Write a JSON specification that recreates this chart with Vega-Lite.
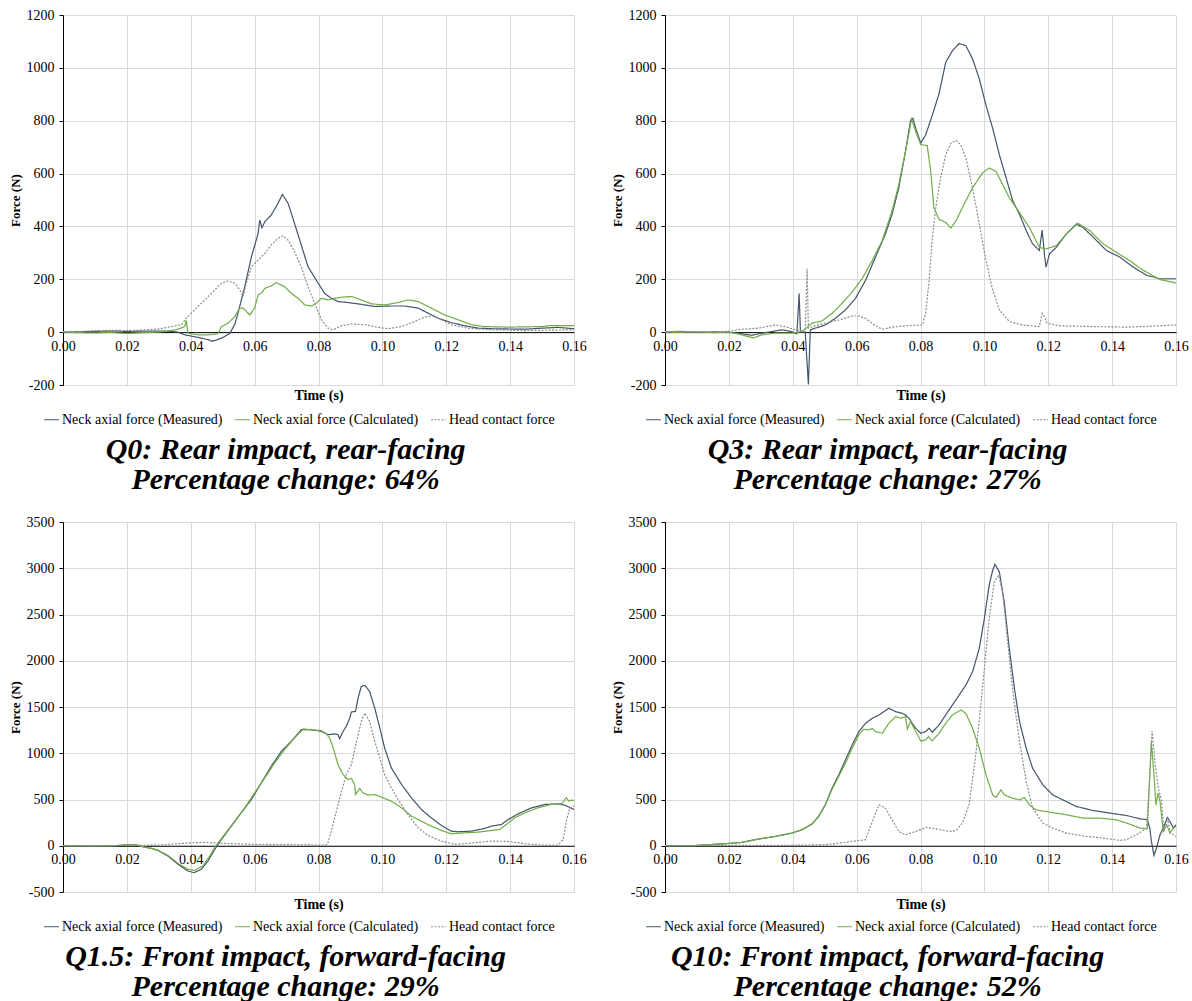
{
"$schema": "https://vega.github.io/schema/vega-lite/v6.json",
"padding": {"left": 9, "top": 8, "right": 0, "bottom": 0},
"background": "white",
"columns": 2,
"spacing": {"row": 20, "column": 24},
"resolve": {"scale": {"x": "independent", "y": "independent", "color": "independent", "strokeDash": "independent"}, "legend": {"color": "independent", "strokeDash": "independent"}},
"datasets": {
"q0": [
{"s":"M","t":0,"f":0},{"s":"M","t":0.005,"f":1},{"s":"M","t":0.01,"f":3},{"s":"M","t":0.015,"f":4},{"s":"M","t":0.02,"f":3},{"s":"M","t":0.025,"f":4},{"s":"M","t":0.03,"f":4},{"s":"M","t":0.0339,"f":3},{"s":"M","t":0.036,"f":0},{"s":"M","t":0.0381,"f":-10},{"s":"M","t":0.0423,"f":-20},{"s":"M","t":0.0459,"f":-30},{"s":"M","t":0.0465,"f":-35},{"s":"M","t":0.048,"f":-30},{"s":"M","t":0.0501,"f":-20},{"s":"M","t":0.0522,"f":-5},{"s":"M","t":0.0538,"f":30},{"s":"M","t":0.0548,"f":72},{"s":"M","t":0.0569,"f":172},{"s":"M","t":0.059,"f":285},{"s":"M","t":0.0611,"f":374},{"s":"M","t":0.0616,"f":424},{"s":"M","t":0.0623,"f":395},{"s":"M","t":0.0632,"f":418},{"s":"M","t":0.0652,"f":443},{"s":"M","t":0.0673,"f":487},{"s":"M","t":0.0687,"f":521},{"s":"M","t":0.0705,"f":487},{"s":"M","t":0.0725,"f":411},{"s":"M","t":0.0746,"f":330},{"s":"M","t":0.0767,"f":248},{"s":"M","t":0.0799,"f":185},{"s":"M","t":0.0819,"f":147},{"s":"M","t":0.084,"f":128},{"s":"M","t":0.0861,"f":116},{"s":"M","t":0.0892,"f":112},{"s":"M","t":0.0924,"f":107},{"s":"M","t":0.0976,"f":97},{"s":"M","t":0.1028,"f":99},{"s":"M","t":0.107,"f":99},{"s":"M","t":0.1112,"f":91},{"s":"M","t":0.1143,"f":72},{"s":"M","t":0.1174,"f":53},{"s":"M","t":0.1216,"f":36},{"s":"M","t":0.1258,"f":24},{"s":"M","t":0.13,"f":15},{"s":"M","t":0.1341,"f":13},{"s":"M","t":0.1446,"f":11},{"s":"M","t":0.1498,"f":15},{"s":"M","t":0.155,"f":18},{"s":"M","t":0.16,"f":13},
{"s":"C","t":0,"f":0},{"s":"C","t":0.005,"f":-2},{"s":"C","t":0.01,"f":-3},{"s":"C","t":0.015,"f":-1},{"s":"C","t":0.02,"f":-5},{"s":"C","t":0.025,"f":-2},{"s":"C","t":0.03,"f":0},{"s":"C","t":0.0355,"f":9},{"s":"C","t":0.0381,"f":21},{"s":"C","t":0.0386,"f":45},{"s":"C","t":0.0391,"f":-4},{"s":"C","t":0.0423,"f":-10},{"s":"C","t":0.0454,"f":-10},{"s":"C","t":0.0485,"f":-6},{"s":"C","t":0.0496,"f":21},{"s":"C","t":0.0517,"f":34},{"s":"C","t":0.0538,"f":59},{"s":"C","t":0.0553,"f":91},{"s":"C","t":0.0564,"f":91},{"s":"C","t":0.0585,"f":65},{"s":"C","t":0.06,"f":91},{"s":"C","t":0.0611,"f":141},{"s":"C","t":0.0621,"f":147},{"s":"C","t":0.0632,"f":166},{"s":"C","t":0.0652,"f":175},{"s":"C","t":0.0668,"f":187},{"s":"C","t":0.0694,"f":172},{"s":"C","t":0.0715,"f":147},{"s":"C","t":0.0736,"f":128},{"s":"C","t":0.0757,"f":103},{"s":"C","t":0.0778,"f":99},{"s":"C","t":0.0793,"f":109},{"s":"C","t":0.0809,"f":128},{"s":"C","t":0.083,"f":122},{"s":"C","t":0.0851,"f":128},{"s":"C","t":0.0872,"f":132},{"s":"C","t":0.0903,"f":135},{"s":"C","t":0.0934,"f":122},{"s":"C","t":0.0966,"f":107},{"s":"C","t":0.1007,"f":103},{"s":"C","t":0.1049,"f":112},{"s":"C","t":0.108,"f":122},{"s":"C","t":0.1112,"f":116},{"s":"C","t":0.1153,"f":91},{"s":"C","t":0.1195,"f":65},{"s":"C","t":0.1237,"f":47},{"s":"C","t":0.1279,"f":28},{"s":"C","t":0.132,"f":21},{"s":"C","t":0.1394,"f":19},{"s":"C","t":0.1498,"f":21},{"s":"C","t":0.1529,"f":25},{"s":"C","t":0.16,"f":25},
{"s":"H","t":0,"f":2},{"s":"H","t":0.005,"f":3},{"s":"H","t":0.01,"f":5},{"s":"H","t":0.015,"f":7},{"s":"H","t":0.02,"f":6},{"s":"H","t":0.025,"f":8},{"s":"H","t":0.03,"f":12},{"s":"H","t":0.0339,"f":21},{"s":"H","t":0.0371,"f":28},{"s":"H","t":0.0386,"f":53},{"s":"H","t":0.0402,"f":72},{"s":"H","t":0.0433,"f":109},{"s":"H","t":0.0465,"f":147},{"s":"H","t":0.0496,"f":185},{"s":"H","t":0.0517,"f":194},{"s":"H","t":0.0538,"f":185},{"s":"H","t":0.0553,"f":160},{"s":"H","t":0.0564,"f":135},{"s":"H","t":0.0574,"f":185},{"s":"H","t":0.059,"f":248},{"s":"H","t":0.0611,"f":273},{"s":"H","t":0.0632,"f":298},{"s":"H","t":0.0652,"f":330},{"s":"H","t":0.0673,"f":355},{"s":"H","t":0.0689,"f":364},{"s":"H","t":0.0705,"f":348},{"s":"H","t":0.0725,"f":304},{"s":"H","t":0.0746,"f":248},{"s":"H","t":0.0767,"f":172},{"s":"H","t":0.0788,"f":109},{"s":"H","t":0.0809,"f":47},{"s":"H","t":0.083,"f":15},{"s":"H","t":0.0846,"f":9},{"s":"H","t":0.0872,"f":24},{"s":"H","t":0.0903,"f":31},{"s":"H","t":0.0945,"f":28},{"s":"H","t":0.0986,"f":18},{"s":"H","t":0.1018,"f":13},{"s":"H","t":0.106,"f":21},{"s":"H","t":0.1101,"f":40},{"s":"H","t":0.1133,"f":57},{"s":"H","t":0.1159,"f":62},{"s":"H","t":0.1185,"f":47},{"s":"H","t":0.1216,"f":28},{"s":"H","t":0.1268,"f":15},{"s":"H","t":0.1341,"f":9},{"s":"H","t":0.1446,"f":6},{"s":"H","t":0.16,"f":9}
],
"q3": [
{"s":"M","t":0,"f":0},{"s":"M","t":0.005,"f":2},{"s":"M","t":0.01,"f":-1},{"s":"M","t":0.015,"f":1},{"s":"M","t":0.02,"f":0},{"s":"M","t":0.024,"f":-6},{"s":"M","t":0.0271,"f":-12},{"s":"M","t":0.0303,"f":-4},{"s":"M","t":0.0334,"f":2},{"s":"M","t":0.0366,"f":9},{"s":"M","t":0.0397,"f":2},{"s":"M","t":0.0413,"f":-6},{"s":"M","t":0.042,"f":146},{"s":"M","t":0.0424,"f":2},{"s":"M","t":0.0439,"f":-1},{"s":"M","t":0.0449,"f":-198},{"s":"M","t":0.0455,"f":9},{"s":"M","t":0.047,"f":15},{"s":"M","t":0.0502,"f":27},{"s":"M","t":0.0533,"f":52},{"s":"M","t":0.0565,"f":84},{"s":"M","t":0.0596,"f":127},{"s":"M","t":0.0628,"f":196},{"s":"M","t":0.0659,"f":284},{"s":"M","t":0.069,"f":371},{"s":"M","t":0.0711,"f":446},{"s":"M","t":0.0732,"f":546},{"s":"M","t":0.0753,"f":684},{"s":"M","t":0.0769,"f":802},{"s":"M","t":0.0776,"f":809},{"s":"M","t":0.0785,"f":771},{"s":"M","t":0.0801,"f":715},{"s":"M","t":0.0816,"f":746},{"s":"M","t":0.0837,"f":821},{"s":"M","t":0.0858,"f":902},{"s":"M","t":0.0879,"f":1021},{"s":"M","t":0.09,"f":1065},{"s":"M","t":0.0921,"f":1092},{"s":"M","t":0.0942,"f":1084},{"s":"M","t":0.0963,"f":1034},{"s":"M","t":0.0984,"f":959},{"s":"M","t":0.1005,"f":859},{"s":"M","t":0.1026,"f":771},{"s":"M","t":0.1047,"f":671},{"s":"M","t":0.1068,"f":584},{"s":"M","t":0.1089,"f":496},{"s":"M","t":0.111,"f":446},{"s":"M","t":0.1131,"f":384},{"s":"M","t":0.1151,"f":334},{"s":"M","t":0.1172,"f":309},{"s":"M","t":0.1181,"f":386},{"s":"M","t":0.1188,"f":296},{"s":"M","t":0.1193,"f":246},{"s":"M","t":0.1204,"f":296},{"s":"M","t":0.1225,"f":321},{"s":"M","t":0.1256,"f":371},{"s":"M","t":0.1288,"f":409},{"s":"M","t":0.1309,"f":396},{"s":"M","t":0.1341,"f":359},{"s":"M","t":0.1382,"f":309},{"s":"M","t":0.1424,"f":284},{"s":"M","t":0.1466,"f":246},{"s":"M","t":0.1508,"f":215},{"s":"M","t":0.155,"f":202},{"s":"M","t":0.16,"f":202},
{"s":"C","t":0,"f":0},{"s":"C","t":0.005,"f":-1},{"s":"C","t":0.01,"f":1},{"s":"C","t":0.015,"f":-2},{"s":"C","t":0.02,"f":0},{"s":"C","t":0.024,"f":-10},{"s":"C","t":0.0277,"f":-22},{"s":"C","t":0.0303,"f":-10},{"s":"C","t":0.0345,"f":-4},{"s":"C","t":0.0397,"f":-4},{"s":"C","t":0.0429,"f":2},{"s":"C","t":0.046,"f":34},{"s":"C","t":0.0491,"f":42},{"s":"C","t":0.0523,"f":71},{"s":"C","t":0.0554,"f":109},{"s":"C","t":0.0586,"f":152},{"s":"C","t":0.0617,"f":202},{"s":"C","t":0.0649,"f":271},{"s":"C","t":0.068,"f":346},{"s":"C","t":0.0711,"f":459},{"s":"C","t":0.0732,"f":559},{"s":"C","t":0.0753,"f":684},{"s":"C","t":0.0772,"f":806},{"s":"C","t":0.0785,"f":759},{"s":"C","t":0.0801,"f":709},{"s":"C","t":0.0821,"f":706},{"s":"C","t":0.0832,"f":609},{"s":"C","t":0.0842,"f":471},{"s":"C","t":0.0858,"f":427},{"s":"C","t":0.0879,"f":415},{"s":"C","t":0.0895,"f":394},{"s":"C","t":0.0911,"f":421},{"s":"C","t":0.0931,"f":471},{"s":"C","t":0.0963,"f":546},{"s":"C","t":0.0994,"f":602},{"s":"C","t":0.1015,"f":621},{"s":"C","t":0.1036,"f":609},{"s":"C","t":0.1057,"f":559},{"s":"C","t":0.1078,"f":509},{"s":"C","t":0.111,"f":452},{"s":"C","t":0.1141,"f":396},{"s":"C","t":0.1172,"f":321},{"s":"C","t":0.1193,"f":315},{"s":"C","t":0.1225,"f":327},{"s":"C","t":0.1256,"f":371},{"s":"C","t":0.1293,"f":412},{"s":"C","t":0.133,"f":384},{"s":"C","t":0.1372,"f":334},{"s":"C","t":0.1413,"f":302},{"s":"C","t":0.1455,"f":271},{"s":"C","t":0.1497,"f":234},{"s":"C","t":0.155,"f":199},{"s":"C","t":0.16,"f":186},
{"s":"H","t":0,"f":2},{"s":"H","t":0.005,"f":3},{"s":"H","t":0.01,"f":1},{"s":"H","t":0.015,"f":2},{"s":"H","t":0.02,"f":3},{"s":"H","t":0.024,"f":11},{"s":"H","t":0.0292,"f":15},{"s":"H","t":0.0345,"f":27},{"s":"H","t":0.0376,"f":21},{"s":"H","t":0.0408,"f":9},{"s":"H","t":0.0439,"f":2},{"s":"H","t":0.0445,"f":240},{"s":"H","t":0.0449,"f":15},{"s":"H","t":0.047,"f":24},{"s":"H","t":0.0502,"f":34},{"s":"H","t":0.0544,"f":46},{"s":"H","t":0.0586,"f":61},{"s":"H","t":0.0607,"f":61},{"s":"H","t":0.0628,"f":52},{"s":"H","t":0.0659,"f":24},{"s":"H","t":0.068,"f":11},{"s":"H","t":0.0711,"f":19},{"s":"H","t":0.0753,"f":24},{"s":"H","t":0.0806,"f":27},{"s":"H","t":0.0816,"f":71},{"s":"H","t":0.0827,"f":196},{"s":"H","t":0.0837,"f":359},{"s":"H","t":0.0848,"f":471},{"s":"H","t":0.0863,"f":584},{"s":"H","t":0.0879,"f":671},{"s":"H","t":0.0895,"f":715},{"s":"H","t":0.0911,"f":725},{"s":"H","t":0.0926,"f":709},{"s":"H","t":0.0942,"f":659},{"s":"H","t":0.0963,"f":546},{"s":"H","t":0.0984,"f":409},{"s":"H","t":0.1005,"f":271},{"s":"H","t":0.1026,"f":159},{"s":"H","t":0.1047,"f":84},{"s":"H","t":0.1078,"f":40},{"s":"H","t":0.112,"f":27},{"s":"H","t":0.1172,"f":21},{"s":"H","t":0.1181,"f":71},{"s":"H","t":0.1188,"f":59},{"s":"H","t":0.1196,"f":34},{"s":"H","t":0.1235,"f":24},{"s":"H","t":0.1341,"f":21},{"s":"H","t":0.1445,"f":19},{"s":"H","t":0.155,"f":24},{"s":"H","t":0.16,"f":27}
],
"q15": [
{"s":"M","t":0,"f":0},{"s":"M","t":0.005,"f":-2},{"s":"M","t":0.01,"f":-3},{"s":"M","t":0.015,"f":-2},{"s":"M","t":0.0204,"f":11},{"s":"M","t":0.0224,"f":14},{"s":"M","t":0.0245,"f":-7},{"s":"M","t":0.0277,"f":-29},{"s":"M","t":0.0297,"f":-50},{"s":"M","t":0.0329,"f":-112},{"s":"M","t":0.036,"f":-201},{"s":"M","t":0.0391,"f":-273},{"s":"M","t":0.041,"f":-291},{"s":"M","t":0.0433,"f":-255},{"s":"M","t":0.0454,"f":-165},{"s":"M","t":0.0475,"f":-40},{"s":"M","t":0.0496,"f":68},{"s":"M","t":0.0527,"f":212},{"s":"M","t":0.0558,"f":356},{"s":"M","t":0.059,"f":500},{"s":"M","t":0.0621,"f":680},{"s":"M","t":0.0652,"f":860},{"s":"M","t":0.0684,"f":1022},{"s":"M","t":0.0715,"f":1129},{"s":"M","t":0.0746,"f":1255},{"s":"M","t":0.0778,"f":1255},{"s":"M","t":0.0809,"f":1237},{"s":"M","t":0.083,"f":1201},{"s":"M","t":0.0851,"f":1209},{"s":"M","t":0.0861,"f":1201},{"s":"M","t":0.0866,"f":1158},{"s":"M","t":0.0877,"f":1237},{"s":"M","t":0.0887,"f":1291},{"s":"M","t":0.0898,"f":1381},{"s":"M","t":0.0903,"f":1446},{"s":"M","t":0.0916,"f":1453},{"s":"M","t":0.0924,"f":1597},{"s":"M","t":0.0934,"f":1723},{"s":"M","t":0.0945,"f":1734},{"s":"M","t":0.096,"f":1669},{"s":"M","t":0.0976,"f":1489},{"s":"M","t":0.0992,"f":1273},{"s":"M","t":0.1007,"f":1058},{"s":"M","t":0.1028,"f":842},{"s":"M","t":0.106,"f":662},{"s":"M","t":0.1091,"f":518},{"s":"M","t":0.1122,"f":392},{"s":"M","t":0.1153,"f":302},{"s":"M","t":0.1185,"f":219},{"s":"M","t":0.1216,"f":158},{"s":"M","t":0.1237,"f":151},{"s":"M","t":0.1279,"f":158},{"s":"M","t":0.132,"f":187},{"s":"M","t":0.1341,"f":212},{"s":"M","t":0.1373,"f":230},{"s":"M","t":0.1394,"f":284},{"s":"M","t":0.1425,"f":345},{"s":"M","t":0.1467,"f":410},{"s":"M","t":0.1508,"f":446},{"s":"M","t":0.155,"f":453},{"s":"M","t":0.1571,"f":439},{"s":"M","t":0.16,"f":392},
{"s":"C","t":0,"f":0},{"s":"C","t":0.005,"f":-2},{"s":"C","t":0.01,"f":-3},{"s":"C","t":0.015,"f":-2},{"s":"C","t":0.0204,"f":10},{"s":"C","t":0.0224,"f":13},{"s":"C","t":0.0245,"f":-7},{"s":"C","t":0.0277,"f":-28},{"s":"C","t":0.0297,"f":-48},{"s":"C","t":0.0329,"f":-105},{"s":"C","t":0.036,"f":-190},{"s":"C","t":0.0391,"f":-255},{"s":"C","t":0.0412,"f":-266},{"s":"C","t":0.0438,"f":-219},{"s":"C","t":0.0459,"f":-112},{"s":"C","t":0.048,"f":7},{"s":"C","t":0.0506,"f":122},{"s":"C","t":0.0538,"f":266},{"s":"C","t":0.0569,"f":410},{"s":"C","t":0.06,"f":572},{"s":"C","t":0.0632,"f":734},{"s":"C","t":0.0663,"f":896},{"s":"C","t":0.0694,"f":1040},{"s":"C","t":0.0725,"f":1165},{"s":"C","t":0.0752,"f":1263},{"s":"C","t":0.0778,"f":1252},{"s":"C","t":0.0809,"f":1245},{"s":"C","t":0.0825,"f":1209},{"s":"C","t":0.0835,"f":1165},{"s":"C","t":0.0846,"f":1058},{"s":"C","t":0.0861,"f":878},{"s":"C","t":0.0877,"f":770},{"s":"C","t":0.0892,"f":716},{"s":"C","t":0.0903,"f":727},{"s":"C","t":0.0913,"f":662},{"s":"C","t":0.0916,"f":554},{"s":"C","t":0.0924,"f":597},{"s":"C","t":0.0929,"f":619},{"s":"C","t":0.0939,"f":572},{"s":"C","t":0.0955,"f":547},{"s":"C","t":0.0976,"f":554},{"s":"C","t":0.0997,"f":525},{"s":"C","t":0.1028,"f":482},{"s":"C","t":0.106,"f":410},{"s":"C","t":0.1091,"f":320},{"s":"C","t":0.1122,"f":266},{"s":"C","t":0.1153,"f":212},{"s":"C","t":0.1185,"f":165},{"s":"C","t":0.1216,"f":129},{"s":"C","t":0.1258,"f":140},{"s":"C","t":0.13,"f":147},{"s":"C","t":0.1341,"f":165},{"s":"C","t":0.1367,"f":176},{"s":"C","t":0.1388,"f":230},{"s":"C","t":0.1414,"f":302},{"s":"C","t":0.1446,"f":356},{"s":"C","t":0.1487,"f":410},{"s":"C","t":0.1529,"f":446},{"s":"C","t":0.1561,"f":453},{"s":"C","t":0.1576,"f":518},{"s":"C","t":0.1584,"f":482},{"s":"C","t":0.1592,"f":493},{"s":"C","t":0.16,"f":489},
{"s":"H","t":0,"f":0},{"s":"H","t":0.01,"f":2},{"s":"H","t":0.02,"f":3},{"s":"H","t":0.0297,"f":7},{"s":"H","t":0.0402,"f":32},{"s":"H","t":0.0444,"f":36},{"s":"H","t":0.0506,"f":25},{"s":"H","t":0.0611,"f":14},{"s":"H","t":0.0715,"f":11},{"s":"H","t":0.0819,"f":7},{"s":"H","t":0.0828,"f":14},{"s":"H","t":0.084,"f":158},{"s":"H","t":0.0856,"f":374},{"s":"H","t":0.0872,"f":590},{"s":"H","t":0.0887,"f":770},{"s":"H","t":0.0903,"f":878},{"s":"H","t":0.0919,"f":1129},{"s":"H","t":0.0934,"f":1345},{"s":"H","t":0.0945,"f":1435},{"s":"H","t":0.096,"f":1345},{"s":"H","t":0.0976,"f":1129},{"s":"H","t":0.0992,"f":950},{"s":"H","t":0.1007,"f":770},{"s":"H","t":0.1028,"f":626},{"s":"H","t":0.1049,"f":500},{"s":"H","t":0.108,"f":338},{"s":"H","t":0.1112,"f":194},{"s":"H","t":0.1143,"f":111},{"s":"H","t":0.1185,"f":50},{"s":"H","t":0.1227,"f":14},{"s":"H","t":0.1268,"f":25},{"s":"H","t":0.1341,"f":50},{"s":"H","t":0.1394,"f":47},{"s":"H","t":0.1446,"f":22},{"s":"H","t":0.1498,"f":7},{"s":"H","t":0.155,"f":7},{"s":"H","t":0.1566,"f":68},{"s":"H","t":0.1576,"f":266},{"s":"H","t":0.1587,"f":410},{"s":"H","t":0.16,"f":428}
],
"q10": [
{"s":"M","t":0,"f":0},{"s":"M","t":0.0083,"f":0},{"s":"M","t":0.0188,"f":22},{"s":"M","t":0.024,"f":36},{"s":"M","t":0.0292,"f":72},{"s":"M","t":0.0345,"f":101},{"s":"M","t":0.0397,"f":137},{"s":"M","t":0.0429,"f":173},{"s":"M","t":0.046,"f":234},{"s":"M","t":0.0481,"f":317},{"s":"M","t":0.0502,"f":442},{"s":"M","t":0.0523,"f":622},{"s":"M","t":0.0544,"f":766},{"s":"M","t":0.0565,"f":928},{"s":"M","t":0.0586,"f":1090},{"s":"M","t":0.0607,"f":1234},{"s":"M","t":0.0628,"f":1324},{"s":"M","t":0.0649,"f":1378},{"s":"M","t":0.067,"f":1414},{"s":"M","t":0.0701,"f":1486},{"s":"M","t":0.0722,"f":1450},{"s":"M","t":0.0743,"f":1432},{"s":"M","t":0.0753,"f":1414},{"s":"M","t":0.0764,"f":1378},{"s":"M","t":0.0774,"f":1324},{"s":"M","t":0.0785,"f":1270},{"s":"M","t":0.0801,"f":1216},{"s":"M","t":0.0816,"f":1234},{"s":"M","t":0.0827,"f":1270},{"s":"M","t":0.0837,"f":1227},{"s":"M","t":0.0858,"f":1306},{"s":"M","t":0.0879,"f":1414},{"s":"M","t":0.09,"f":1522},{"s":"M","t":0.0921,"f":1629},{"s":"M","t":0.0942,"f":1737},{"s":"M","t":0.0963,"f":1881},{"s":"M","t":0.0984,"f":2133},{"s":"M","t":0.1,"f":2457},{"s":"M","t":0.1015,"f":2816},{"s":"M","t":0.1026,"f":2978},{"s":"M","t":0.1033,"f":3043},{"s":"M","t":0.1047,"f":2960},{"s":"M","t":0.1062,"f":2637},{"s":"M","t":0.1078,"f":2133},{"s":"M","t":0.1094,"f":1701},{"s":"M","t":0.111,"f":1342},{"s":"M","t":0.1131,"f":1054},{"s":"M","t":0.1151,"f":838},{"s":"M","t":0.1183,"f":658},{"s":"M","t":0.1214,"f":550},{"s":"M","t":0.1246,"f":496},{"s":"M","t":0.1288,"f":424},{"s":"M","t":0.1341,"f":381},{"s":"M","t":0.1393,"f":353},{"s":"M","t":0.1445,"f":327},{"s":"M","t":0.1487,"f":291},{"s":"M","t":0.151,"f":281},{"s":"M","t":0.1518,"f":191},{"s":"M","t":0.1523,"f":47},{"s":"M","t":0.1531,"f":-104},{"s":"M","t":0.1539,"f":-25},{"s":"M","t":0.155,"f":119},{"s":"M","t":0.156,"f":191},{"s":"M","t":0.1573,"f":306},{"s":"M","t":0.1581,"f":263},{"s":"M","t":0.1592,"f":191},{"s":"M","t":0.16,"f":227},
{"s":"C","t":0,"f":0},{"s":"C","t":0.0083,"f":0},{"s":"C","t":0.0188,"f":22},{"s":"C","t":0.024,"f":36},{"s":"C","t":0.0292,"f":72},{"s":"C","t":0.0345,"f":101},{"s":"C","t":0.0397,"f":137},{"s":"C","t":0.0429,"f":173},{"s":"C","t":0.046,"f":234},{"s":"C","t":0.0481,"f":317},{"s":"C","t":0.0502,"f":442},{"s":"C","t":0.0523,"f":610},{"s":"C","t":0.0544,"f":750},{"s":"C","t":0.0565,"f":892},{"s":"C","t":0.0586,"f":1054},{"s":"C","t":0.0607,"f":1198},{"s":"C","t":0.0622,"f":1259},{"s":"C","t":0.0638,"f":1252},{"s":"C","t":0.0649,"f":1270},{"s":"C","t":0.0659,"f":1234},{"s":"C","t":0.068,"f":1216},{"s":"C","t":0.0701,"f":1324},{"s":"C","t":0.0722,"f":1396},{"s":"C","t":0.0738,"f":1378},{"s":"C","t":0.0753,"f":1396},{"s":"C","t":0.0759,"f":1263},{"s":"C","t":0.0769,"f":1342},{"s":"C","t":0.0785,"f":1234},{"s":"C","t":0.0801,"f":1133},{"s":"C","t":0.0816,"f":1144},{"s":"C","t":0.0825,"f":1180},{"s":"C","t":0.0837,"f":1133},{"s":"C","t":0.0858,"f":1216},{"s":"C","t":0.0879,"f":1324},{"s":"C","t":0.09,"f":1414},{"s":"C","t":0.0926,"f":1468},{"s":"C","t":0.0942,"f":1432},{"s":"C","t":0.0963,"f":1270},{"s":"C","t":0.0984,"f":1054},{"s":"C","t":0.1005,"f":766},{"s":"C","t":0.1026,"f":550},{"s":"C","t":0.1036,"f":522},{"s":"C","t":0.1052,"f":604},{"s":"C","t":0.1062,"f":550},{"s":"C","t":0.1089,"f":514},{"s":"C","t":0.111,"f":496},{"s":"C","t":0.1125,"f":522},{"s":"C","t":0.1141,"f":442},{"s":"C","t":0.1162,"f":388},{"s":"C","t":0.1204,"f":363},{"s":"C","t":0.1256,"f":335},{"s":"C","t":0.1309,"f":299},{"s":"C","t":0.1361,"f":299},{"s":"C","t":0.1413,"f":281},{"s":"C","t":0.1455,"f":234},{"s":"C","t":0.1487,"f":191},{"s":"C","t":0.151,"f":183},{"s":"C","t":0.1518,"f":766},{"s":"C","t":0.1523,"f":1126},{"s":"C","t":0.1531,"f":766},{"s":"C","t":0.1537,"f":442},{"s":"C","t":0.1544,"f":568},{"s":"C","t":0.155,"f":478},{"s":"C","t":0.156,"f":155},{"s":"C","t":0.1571,"f":227},{"s":"C","t":0.1581,"f":137},{"s":"C","t":0.1592,"f":191},{"s":"C","t":0.16,"f":209},
{"s":"H","t":0,"f":0},{"s":"H","t":0.01,"f":2},{"s":"H","t":0.02,"f":3},{"s":"H","t":0.03,"f":4},{"s":"H","t":0.04,"f":5},{"s":"H","t":0.0502,"f":11},{"s":"H","t":0.0544,"f":29},{"s":"H","t":0.0586,"f":47},{"s":"H","t":0.0628,"f":65},{"s":"H","t":0.0649,"f":263},{"s":"H","t":0.067,"f":442},{"s":"H","t":0.069,"f":406},{"s":"H","t":0.0711,"f":281},{"s":"H","t":0.0732,"f":155},{"s":"H","t":0.0753,"f":119},{"s":"H","t":0.0785,"f":155},{"s":"H","t":0.0816,"f":198},{"s":"H","t":0.0848,"f":183},{"s":"H","t":0.089,"f":155},{"s":"H","t":0.0911,"f":162},{"s":"H","t":0.0931,"f":245},{"s":"H","t":0.0952,"f":442},{"s":"H","t":0.0973,"f":982},{"s":"H","t":0.0994,"f":1701},{"s":"H","t":0.1015,"f":2457},{"s":"H","t":0.1031,"f":2852},{"s":"H","t":0.1045,"f":2924},{"s":"H","t":0.1057,"f":2745},{"s":"H","t":0.1073,"f":2205},{"s":"H","t":0.1089,"f":1665},{"s":"H","t":0.111,"f":1126},{"s":"H","t":0.1131,"f":694},{"s":"H","t":0.1151,"f":406},{"s":"H","t":0.1183,"f":245},{"s":"H","t":0.1214,"f":191},{"s":"H","t":0.1256,"f":137},{"s":"H","t":0.1319,"f":101},{"s":"H","t":0.1372,"f":83},{"s":"H","t":0.1424,"f":58},{"s":"H","t":0.1445,"f":65},{"s":"H","t":0.1476,"f":119},{"s":"H","t":0.1508,"f":191},{"s":"H","t":0.1518,"f":766},{"s":"H","t":0.1525,"f":1241},{"s":"H","t":0.1534,"f":910},{"s":"H","t":0.1544,"f":640},{"s":"H","t":0.1555,"f":478},{"s":"H","t":0.1562,"f":155},{"s":"H","t":0.1573,"f":299},{"s":"H","t":0.1583,"f":137},{"s":"H","t":0.16,"f":101}
]
},
"concat": [
{
"width": 511, "height": 370,
"data": {"name": "q0"},
"title": {"text": ["Q0: Rear impact, rear-facing", "Percentage change: 64%"]},
"mark": {"type": "line", "clip": true},
"encoding": {
"x": {"field": "t", "type": "quantitative", "scale": {"domain": [0, 0.16], "nice": false, "zero": false}, "axis": {"title": "Time (s)", "values": [0, 0.02, 0.04, 0.06, 0.08, 0.1, 0.12, 0.14, 0.16], "format": ".2f", "offset": -52.86, "titlePadding": 35}},
"y": {"field": "f", "type": "quantitative", "scale": {"domain": [-200, 1200], "nice": false}, "axis": {"title": "Force (N)", "labelExpr": "'' + datum.value", "values": [-200, 0, 200, 400, 600, 800, 1000, 1200]}},
"color": {"field": "s", "type": "nominal", "scale": {"domain": ["M", "C", "H"], "range": ["#44546A", "#70AD47", "#8C8C8C"]}, "legend": {"title": null, "orient": "none", "legendX": -20, "legendY": 396, "direction": "horizontal", "labelExpr": "datum.label == 'M' ? 'Neck axial force (Measured)' : datum.label == 'C' ? 'Neck axial force (Calculated)' : 'Head contact force'"}},
"strokeDash": {"field": "s", "type": "nominal", "scale": {"domain": ["M", "C", "H"], "range": [[1, 0], [1, 0], [2, 1.5]]}, "legend": {"title": null, "orient": "none", "legendX": -20, "legendY": 396, "direction": "horizontal", "labelExpr": "datum.label == 'M' ? 'Neck axial force (Measured)' : datum.label == 'C' ? 'Neck axial force (Calculated)' : 'Head contact force'"}}
}
},
{
"width": 511, "height": 370,
"data": {"name": "q3"},
"title": {"text": ["Q3: Rear impact, rear-facing", "Percentage change: 27%"]},
"mark": {"type": "line", "clip": true},
"encoding": {
"x": {"field": "t", "type": "quantitative", "scale": {"domain": [0, 0.16], "nice": false, "zero": false}, "axis": {"title": "Time (s)", "values": [0, 0.02, 0.04, 0.06, 0.08, 0.1, 0.12, 0.14, 0.16], "format": ".2f", "offset": -52.86, "titlePadding": 35}},
"y": {"field": "f", "type": "quantitative", "scale": {"domain": [-200, 1200], "nice": false}, "axis": {"title": "Force (N)", "labelExpr": "'' + datum.value", "values": [-200, 0, 200, 400, 600, 800, 1000, 1200]}},
"color": {"field": "s", "type": "nominal", "scale": {"domain": ["M", "C", "H"], "range": ["#44546A", "#70AD47", "#8C8C8C"]}, "legend": {"title": null, "orient": "none", "legendX": -20, "legendY": 396, "direction": "horizontal", "labelExpr": "datum.label == 'M' ? 'Neck axial force (Measured)' : datum.label == 'C' ? 'Neck axial force (Calculated)' : 'Head contact force'"}},
"strokeDash": {"field": "s", "type": "nominal", "scale": {"domain": ["M", "C", "H"], "range": [[1, 0], [1, 0], [2, 1.5]]}, "legend": {"title": null, "orient": "none", "legendX": -20, "legendY": 396, "direction": "horizontal", "labelExpr": "datum.label == 'M' ? 'Neck axial force (Measured)' : datum.label == 'C' ? 'Neck axial force (Calculated)' : 'Head contact force'"}}
}
},
{
"width": 511, "height": 370,
"data": {"name": "q15"},
"title": {"text": ["Q1.5: Front impact, forward-facing", "Percentage change: 29%"]},
"mark": {"type": "line", "clip": true},
"encoding": {
"x": {"field": "t", "type": "quantitative", "scale": {"domain": [0, 0.16], "nice": false, "zero": false}, "axis": {"title": "Time (s)", "values": [0, 0.02, 0.04, 0.06, 0.08, 0.1, 0.12, 0.14, 0.16], "format": ".2f", "offset": -46.25, "titlePadding": 31}},
"y": {"field": "f", "type": "quantitative", "scale": {"domain": [-500, 3500], "nice": false}, "axis": {"title": "Force (N)", "labelExpr": "'' + datum.value", "values": [-500, 0, 500, 1000, 1500, 2000, 2500, 3000, 3500]}},
"color": {"field": "s", "type": "nominal", "scale": {"domain": ["M", "C", "H"], "range": ["#44546A", "#70AD47", "#8C8C8C"]}, "legend": {"title": null, "orient": "none", "legendX": -20, "legendY": 396, "direction": "horizontal", "labelExpr": "datum.label == 'M' ? 'Neck axial force (Measured)' : datum.label == 'C' ? 'Neck axial force (Calculated)' : 'Head contact force'"}},
"strokeDash": {"field": "s", "type": "nominal", "scale": {"domain": ["M", "C", "H"], "range": [[1, 0], [1, 0], [2, 1.5]]}, "legend": {"title": null, "orient": "none", "legendX": -20, "legendY": 396, "direction": "horizontal", "labelExpr": "datum.label == 'M' ? 'Neck axial force (Measured)' : datum.label == 'C' ? 'Neck axial force (Calculated)' : 'Head contact force'"}}
}
},
{
"width": 511, "height": 370,
"data": {"name": "q10"},
"title": {"text": ["Q10: Front impact, forward-facing", "Percentage change: 52%"]},
"mark": {"type": "line", "clip": true},
"encoding": {
"x": {"field": "t", "type": "quantitative", "scale": {"domain": [0, 0.16], "nice": false, "zero": false}, "axis": {"title": "Time (s)", "values": [0, 0.02, 0.04, 0.06, 0.08, 0.1, 0.12, 0.14, 0.16], "format": ".2f", "offset": -46.25, "titlePadding": 31}},
"y": {"field": "f", "type": "quantitative", "scale": {"domain": [-500, 3500], "nice": false}, "axis": {"title": "Force (N)", "labelExpr": "'' + datum.value", "values": [-500, 0, 500, 1000, 1500, 2000, 2500, 3000, 3500]}},
"color": {"field": "s", "type": "nominal", "scale": {"domain": ["M", "C", "H"], "range": ["#44546A", "#70AD47", "#8C8C8C"]}, "legend": {"title": null, "orient": "none", "legendX": -20, "legendY": 396, "direction": "horizontal", "labelExpr": "datum.label == 'M' ? 'Neck axial force (Measured)' : datum.label == 'C' ? 'Neck axial force (Calculated)' : 'Head contact force'"}},
"strokeDash": {"field": "s", "type": "nominal", "scale": {"domain": ["M", "C", "H"], "range": [[1, 0], [1, 0], [2, 1.5]]}, "legend": {"title": null, "orient": "none", "legendX": -20, "legendY": 396, "direction": "horizontal", "labelExpr": "datum.label == 'M' ? 'Neck axial force (Measured)' : datum.label == 'C' ? 'Neck axial force (Calculated)' : 'Head contact force'"}}
}
}
],
"config": {
"view": {"stroke": null},
"font": "Liberation Serif, Times New Roman, serif",
"line": {"strokeWidth": 1.2},
"axis": {"labelFont": "Liberation Serif, Times New Roman, serif", "labelFontSize": 14, "labelColor": "#000000", "titleFont": "Liberation Serif, Times New Roman, serif", "titleFontWeight": "bold", "titleColor": "#000000", "gridColor": "#d9d9d9", "gridWidth": 1, "domainColor": "#000000", "domainWidth": 1},
"axisY": {"tickSize": 4, "tickColor": "#000000", "labelPadding": 5, "titleFontSize": 13, "titlePadding": 4},
"axisX": {"ticks": false, "labelPadding": 7, "titleFontSize": 14, "labelFlush": false},
"legend": {"symbolType": "stroke", "symbolSize": 220, "symbolStrokeWidth": 1.2, "labelFont": "Liberation Serif, Times New Roman, serif", "labelFontSize": 14, "labelColor": "#000000", "labelLimit": 400, "columnPadding": 9, "labelOffset": 2},
"title": {"font": "Liberation Serif, Times New Roman, serif", "fontSize": 30, "fontStyle": "italic", "fontWeight": "bold", "color": "#000000", "orient": "bottom", "anchor": "middle", "frame": "bounds", "lineHeight": 30, "offset": 8, "dx": -12}
}
}
